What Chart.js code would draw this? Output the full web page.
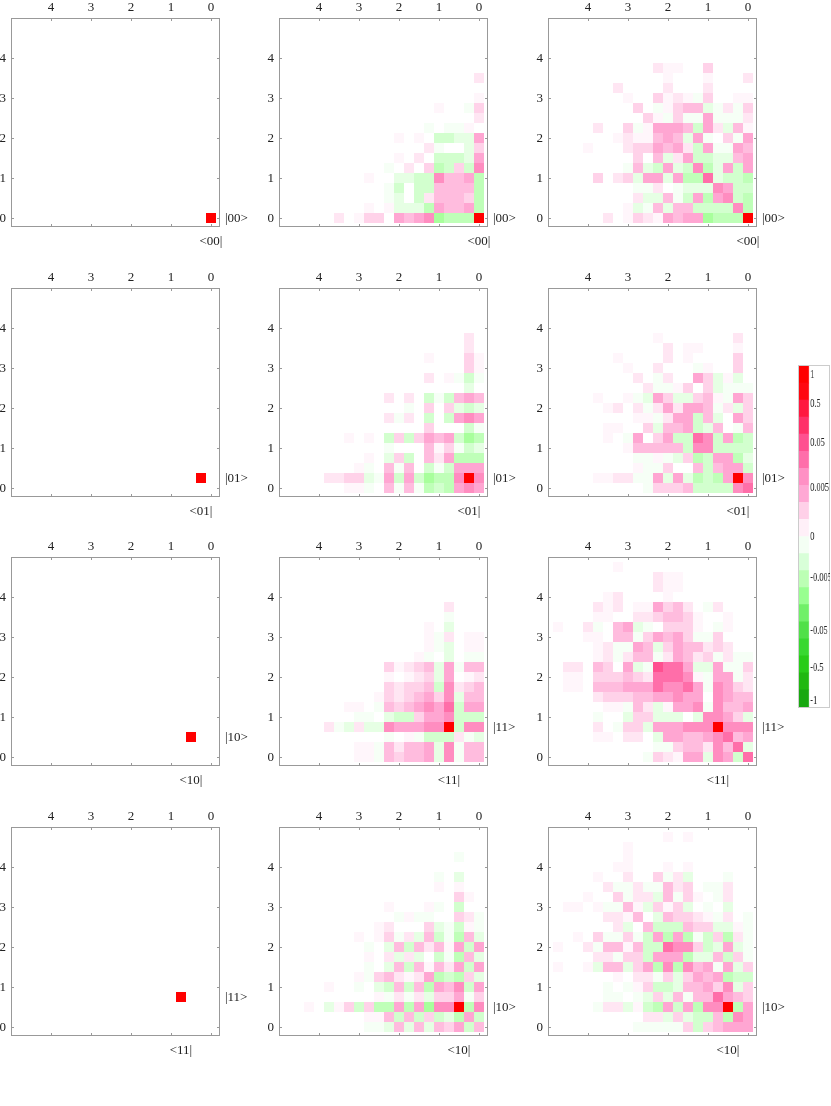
<!DOCTYPE html>
<html>
<head>
<meta charset="utf-8">
<title>Density matrices</title>
<script src="https://cdn.jsdelivr.net/npm/chart.js@4"></script>
<style>
  html, body { margin: 0; padding: 0; background: #fff; }
  body { position: relative; width: 831px; height: 1106px; overflow: hidden; }
  canvas { position: absolute; }
  #barBox { position: absolute; left: 798px; top: 365px; width: 32px; height: 343px; box-sizing: border-box; border: 1px solid #ccc; }
  #bar { transform: scaleX(0.64); transform-origin: left top; }
</style>
</head>
<body>
<div id="barBox"></div>
<canvas id="bar"></canvas>
<script>
// every list below is rows[j][i]: j counts cells up from y=0, i counts cells left from x=0
// values are shade levels, + pink, - green, 9 is the full red cell
const axisTicks = [0, 1, 2, 3, 4];
const cellStep = 0.25;
const kets1 = ['00', '01', '10', '11'];
const kets23 = ['00', '01', '11', '10'];
const ketCell1 = [0, 1, 2, 3];
const ketCell23 = [0, 1, 3, 2];

const col2row1 = [
  [9,-4,-4,-4,-5,6,5,4,5,0,3,3,1,0,2],
  [-4,5,4,4,5,-4,-2,-2,-2,1,0,1],
  [-4,3,4,4,4,2,-3,0,-2,-1],
  [-4,4,4,4,4,-3,-3,0,-3,-1],
  [-4,5,4,4,6,-3,-3,-2,-2,0,0,1],
  [6,-3,3,-3,-4,3,0,2,0,-1],
  [5,-2,-3,-3,-3,0,2,0,1],
  [3,-2,0,0,-1,2,0],
  [5,-2,-2,-3,-3,0,1,0,1],
  [0,1,-1,-1,0,-1],
  [2],
  [3,-1,0,0,1],
  [1],
  [],
  [2]
];
const col3row1 = [
  [9,-4,-4,-4,-5,5,5,4,5,1,2,3,1,0,2],
  [-4,6,-3,-3,-3,-3,4,4,-2,4,-1,-2,1],
  [-4,-3,6,5,-4,5,-3,-1,4,-2,-2,2],
  [-3,-3,5,6,-2,-2,-2,-1,0,2,-1,-1],
  [-4,-3,-3,-2,7,-4,-4,5,-2,5,5,-2,3,2,0,3],
  [5,-3,5,-2,-4,6,-3,-2,5,-3,-2,4,-1],
  [5,4,-2,-2,-3,-3,5,2,-2,4,0,3],
  [4,5,-1,-1,5,-3,2,5,4,5,3,3,2,0,0,0,1],
  [5,-1,3,0,-1,5,-2,4,5,4,1,1,2,1],
  [1,4,-2,2,5,-3,4,5,5,5,1,-1,3,0,0,2],
  [2,-1,-1,-1,5,-1,-1,3,-1,1,3],
  [3,-1,2,-1,-2,4,4,3,1,-1,0,3],
  [1,1,0,0,3,-1,1,2,1,3,0,0,1],
  [0,0,0,0,2,0,0,0,2,0,0,0,0,2],
  [2,0,0,0,1,0,0,0,1],
  [0,0,0,0,3,0,0,1,1,2]
];
const col2row2 = [
  [5,6,5,-4,-3,-4,-1,4,-1,4,0,-1,1,1],
  [6,9,6,-4,-4,-5,-3,5,-3,5,-1,-2,3,3,2,2],
  [5,5,5,-3,-1,-3,0,4,-1,4,0,-1,1],
  [-4,-4,-4,5,2,4,0,-3,3,-2,0,1],
  [-2,-3,-1,3,1,4,0,0,0,-1],
  [-4,-5,-3,5,4,5,3,-3,3,-3,0,1,0,1],
  [-1,-3,0,0,0,3],
  [5,6,5,-3,0,-3,0,2,-1,2],
  [-2,-3,-2,3,0,3,0,-1],
  [4,5,4,-3,-1,-3,0,2,0,2],
  [0,-2],
  [-1,-3,-1,1,0,2],
  [1,3],
  [1,3,0,0,0,1],
  [0,2],
  [0,2]
];
const col3row2 = [
  [7,6,-3,-3,-3,-3,4,3,3,3,-1],
  [6,9,5,-4,-3,-4,-2,5,-2,5,-1,-1,2,2,1,1],
  [-3,5,5,4,-3,4,0,0,3,-1,-1,1],
  [-2,-4,5,5,-3,-4,3,-2,-1,1,-1,-1],
  [-3,-3,-3,-3,6,6,-3,4,4,4,4,4,1],
  [-3,-4,5,-3,6,7,-3,-3,5,3,0,5,-1,0,1],
  [4,-1,0,4,-2,-3,5,4,4,-2,3,0,0,1,1],
  [3,5,0,-2,4,-3,5,5,2,-1,1,1],
  [3,-2,2,-1,4,5,5,2,5,2,-1,2,0,2,1],
  [3,5,-1,1,4,3,-2,-2,3,5,-2,-1,1,0,0,1],
  [-1,-1,-1,-2,3,0,3,1,-1,-1,2],
  [0,-2,1,-2,3,5,0,0,2,-1,0,2],
  [0,3,0,0,1,-1,0,0,0,2,0,0,1],
  [0,3,0,0,0,0,1,0,2,0,0,0,0,1],
  [0,1,0,0,0,1,1,0,2],
  [0,2,0,0,0,0,0,0,0,1]
];
const col2row3 = [
  [4,4,-1,6,-2,5,4,4,3,4,-1,1,1],
  [4,4,-1,6,-2,5,4,4,2,4,-1,1,1],
  [-2,-1,2,-3,-3,-3,-1,1,0,-1],
  [6,6,-3,9,6,6,5,5,5,6,-2,-2,2,-2,-1,2],
  [-3,-3,-3,6,5,5,3,-3,-3,-2,0,-1,-1],
  [5,5,-3,7,5,6,5,4,3,4,-1,0,1,1],
  [4,4,-2,6,3,5,4,3,2,3,1],
  [4,3,2,6,-3,4,3,3,2,3],
  [2,1,0,5,-2,3,2,1,0,1],
  [4,4,-1,5,-2,4,3,2,1,3],
  [-1,-1,0,-2,0,-1,1],
  [1,1,0,-2,-1,1],
  [1,1,0,2,-1,1],
  [0,0,0,-2,0,1],
  [0,0,0,-1],
  [0,0,0,2]
];
const col3row3 = [
  [7,-3,5,6,-2,5,5,1,2,3,-1],
  [-2,7,4,6,2,4,4,3,-1,-1],
  [5,4,7,6,5,4,4,5,5,-2,0,2,2,0,1,1],
  [6,6,6,9,6,6,6,5,5,5,-2,3,3,-1,0,2],
  [-2,3,5,6,6,-2,0,-2,-2,-2,3,3,-2,0,0,-1],
  [5,4,4,6,-1,6,5,5,1,-2,2,4,-1,1,1],
  [4,4,5,6,0,5,5,6,5,5,4,4,3,3,3,2],
  [2,3,5,6,-1,5,7,6,6,7,5,5,5,4,4,4,0,1,1],
  [2,-1,5,5,-1,1,6,7,7,7,2,3,4,3,3,3,0,1,1],
  [3,-1,-1,5,-2,-2,5,7,7,8,-1,-2,5,0,3,4,0,2,2],
  [-1,-1,2,-1,3,2,4,5,2,-1,4,4,2,-1,2,1],
  [0,0,2,3,2,4,4,5,3,-2,4,5,-1,-1,2,1],
  [0,0,0,3,-1,-1,3,5,4,5,3,-1,4,4,0,1,1],
  [0,0,1,-1,0,1,3,3,3,0,-1,-2,5,4,0,-1,2,0,0,1],
  [0,0,1,0,0,1,3,4,4,3,2,2,0,0,1,1],
  [0,0,0,2,-1,0,2,4,3,5,1,1,0,2,1,2],
  [0,0,0,0,0,0,0,0,1,0,0,0,0,2,1],
  [0,0,0,0,0,0,0,1,1,2],
  [0,0,0,0,0,0,0,1,1,2],
  [0,0,0,0,0,0,0,0,0,0,0,0,0,1]
];
const col2row4 = [
  [4,-3,5,3,4,-2,4,-2,4,-2,-1,-1],
  [-3,5,-4,-2,-3,3,-3,4,-3,4,1,1],
  [6,-4,9,6,6,-5,5,-4,5,-4,-4,3,-3,3,1,-2,0,1],
  [3,-1,5,3,3,-2,2,-1,2,-1,1],
  [5,-3,6,4,5,-4,4,-3,4,-3,-2,0,-1,0,0,1],
  [-2,3,-4,-3,-4,5,2,1,2,4,3,-1,1],
  [5,-3,5,2,4,1,4,-3,4,-2,0,-1],
  [-2,4,-4,-1,-3,0,-2,2,-2,2,0,1],
  [5,-3,5,1,4,2,4,-3,4,-2,0,-1],
  [-2,4,-4,-1,-3,4,-2,2,-1,3,1,0,1],
  [-1,1,-3,-1,-2,3,0,0,0,2,1],
  [-1,2,3,0,0,-1,-1,1,-1],
  [0,0,-3,0,-1,1,0,0,0,1],
  [0,1,3],
  [0,0,1,0,1],
  [0,0,-2,0,-1],
  [],
  [0,0,-1]
];
const col3row4 = [
  [5,5,5,4,3,-3,3,-1,-1,-1,-1,-1],
  [5,6,-4,4,-3,-3,-2,3,-2,2,2],
  [5,-4,9,6,6,-4,5,-3,5,-4,-3,1,-2,2,2,-1],
  [3,4,5,7,4,4,-1,4,-2,3,-2,-1,0,-1,-1],
  [3,-2,6,3,5,4,4,-2,-3,-3,3,1,-1,0,-1],
  [-3,-3,-4,5,4,5,3,-2,3,-1,2,2,0,1],
  [3,-2,5,-1,5,4,6,-4,6,-4,5,3,-2,4,4,-2,1,0,0,1],
  [-1,3,-3,4,-2,-2,-4,5,5,5,-3,3,3,-1,2,2],
  [-1,-2,5,-2,-3,3,6,6,7,-3,-3,4,1,4,4,-1,2,0,0,1],
  [-1,2,-4,3,-3,-1,-4,5,-4,5,-3,-1,3,-1,-1,3,0,1],
  [-1,1,-2,-2,3,3,4,-3,-3,-3,4,0,-2,2,0],
  [-1,0,2,-1,1,2,3,3,4,-2,0,4,1,2,2],
  [0,0,-2,0,-1,0,-2,3,1,3,-2,1,4,-1,-1,1,0,1,1],
  [0,0,2,-1,0,1,3,-1,4,-2,2,2,-1,3,0,0,1],
  [0,0,2,-1,-1,0,3,2,4,-1,-1,2,-1,-1,2],
  [0,0,-1,0,0,0,-2,2,-1,3,0,0,2,0,0,1],
  [0,0,0,0,0,0,1,0,1,0,0,0,1,1],
  [0,0,0,0,0,0,0,0,0,0,0,0,1],
  [0,0,0,0,0,0,0,0,0,0,0,0,1],
  [0,0,0,0,0,0,1,0,1]
];
const col2Rows = [col2row1, col2row2, col2row3, col2row4];
const col3Rows = [col3row1, col3row2, col3row3, col3row4];

const barTickValues = [19.5, 17.8, 15.5, 12.85, 10, 7.6, 4.5, 2.3, 0.35];
const barTickLabels = ['1', '0.5', '0.05', '0.005', '0', '-0.005', '-0.05', '-0.5', '-1'];
const barColors = ['#18a810', '#20b810', '#28cc18', '#38d830', '#50e048', '#70f068', '#98ff90', '#bcffb4', '#d8ffd8', '#f4fff4',
  '#fff0f8', '#ffd0e8', '#ffa8d4', '#ff90c4', '#ff6eaa', '#ff5090', '#ff3068', '#ff1840', '#ff0810', '#ff0000'];

const shades = {
  1: '#fff6fb', 2: '#ffe6f3', 3: '#ffd2e9', 4: '#ffbcde', 5: '#ffa6d2', 6: '#ff8dc0', 7: '#ff6ea9', 8: '#ff5090', 9: '#ff0000',
  '-1': '#f6fff6', '-2': '#e6ffe4', '-3': '#d2ffce', '-4': '#bfffb8', '-5': '#a8ff9c'
};

const colLeft = [11, 279, 548];
const rowTop = [18, 288, 557, 827];
const frameSize = 209;
const padL = 30, padR = 50, padT = 18, padB = 24;
const labelFont = { family: '"Liberation Serif"', size: 13 };

// ticks pointing inward on all four sides plus the grey frame
const framePlugin = {
  id: 'frame',
  afterDatasetsDraw(chart) {
    const { ctx, chartArea: a, scales } = chart;
    ctx.save();
    ctx.strokeStyle = '#999';
    ctx.lineWidth = 1;
    ctx.beginPath();
    axisTicks.forEach(v => {
      const px = Math.round(scales.x.getPixelForValue(v)) + 0.5;
      const py = Math.round(scales.y.getPixelForValue(v)) + 0.5;
      ctx.moveTo(px, a.top); ctx.lineTo(px, a.top + 3);
      ctx.moveTo(px, a.bottom); ctx.lineTo(px, a.bottom - 3);
      ctx.moveTo(a.left, py); ctx.lineTo(a.left + 3, py);
      ctx.moveTo(a.right, py); ctx.lineTo(a.right - 3, py);
    });
    ctx.stroke();
    ctx.strokeRect(a.left + 0.5, a.top + 0.5, a.right - a.left - 1, a.bottom - a.top - 1);
    ctx.restore();
  }
};

function cellRadius(c) {
  const x = c.chart.scales.x;
  return Math.abs(x.getPixelForValue(cellStep) - x.getPixelForValue(0)) * Math.SQRT1_2;
}

function makePanel(col, row, rows, ket, ketCell) {
  const canvas = document.createElement('canvas');
  canvas.width = frameSize + padL + padR;
  canvas.height = frameSize + padT + padB;
  canvas.style.left = (colLeft[col] - padL) + 'px';
  canvas.style.top = (rowTop[row] - padT) + 'px';
  document.body.appendChild(canvas);

  const points = [], colors = [];
  rows.forEach((cells, j) => {
    cells.forEach((level, i) => {
      if (level !== 0) {
        points.push({ x: i * cellStep, y: j * cellStep });
        colors.push(shades[level]);
      }
    });
  });

  const ketPos = ketCell * cellStep;
  const common = { ticks: { font: labelFont, color: '#222', autoSkip: false, maxRotation: 0 }, grid: { display: false, drawTicks: false }, border: { display: false } };
  const axis = (position, type, values, labels, size, padding) => ({
    ...common,
    type: 'linear',
    position,
    reverse: type === 'x',
    min: -0.225,
    max: 5,
    ticks: { ...common.ticks, padding, labelOffset: type === 'y' ? 1 : 0, callback: v => labels ? labels : String(v) },
    afterBuildTicks: s => { s.ticks = values.map(v => ({ value: v })); },
    afterFit: s => { if (type === 'x') s.height = size; else s.width = size; }
  });

  new Chart(canvas, {
    type: 'scatter',
    data: { datasets: [{ data: points, backgroundColor: colors, pointStyle: 'rect', pointRadius: cellRadius, pointBorderWidth: 0, pointHoverRadius: cellRadius }] },
    options: {
      responsive: false,
      animation: false,
      events: [],
      layout: { padding: 0 },
      plugins: { legend: { display: false }, tooltip: { enabled: false } },
      scales: {
        x: axis('top', 'x', axisTicks, null, padT, 3),
        xKet: axis('bottom', 'x', [ketPos], '<' + ket + '|', padB, 7),
        y: axis('left', 'y', axisTicks, null, padL, 5),
        yKet: axis('right', 'y', [ketPos], '|' + ket + '>', padR, 5)
      }
    },
    plugins: [framePlugin]
  });
}

rowTop.forEach((_, r) => {
  const single = [];
  for (let j = 0; j < ketCell1[r]; j++) single.push([]);
  const cells = [];
  for (let i = 0; i < ketCell1[r]; i++) cells.push(0);
  cells.push(9);
  single.push(cells);
  makePanel(0, r, single, kets1[r], ketCell1[r]);
  makePanel(1, r, col2Rows[r], kets23[r], ketCell23[r]);
  makePanel(2, r, col3Rows[r], kets23[r], ketCell23[r]);
});

// colour bar, squeezed sideways by the css transform like the narrow labels of the original
const barCanvas = document.getElementById('bar');
barCanvas.width = 48;
barCanvas.height = 349;
barCanvas.style.left = '799px';
barCanvas.style.top = '362px';
new Chart(barCanvas, {
  type: 'bar',
  data: {
    labels: [''],
    datasets: barColors.map(c => ({ data: [1], backgroundColor: c, barPercentage: 1, categoryPercentage: 1, borderWidth: 0 }))
  },
  options: {
    responsive: false,
    animation: false,
    events: [],
    layout: { padding: { top: 4, bottom: 4 } },
    plugins: { legend: { display: false }, tooltip: { enabled: false } },
    scales: {
      x: { stacked: true, display: false },
      y: {
        stacked: true,
        position: 'right',
        min: 0,
        max: 20,
        grid: { display: false, drawTicks: false },
        border: { display: false },
        afterBuildTicks: s => { s.ticks = barTickValues.map(v => ({ value: v })); },
        afterFit: s => { s.width = 32.4; s.paddingTop = 0; s.paddingBottom = 0; },
        ticks: {
          font: { family: '"Liberation Serif"', size: 13 },
          color: '#222',
          padding: 2,
          autoSkip: false,
          callback: (v, idx) => barTickLabels[idx]
        }
      }
    }
  }
});
</script>
</body>
</html>
